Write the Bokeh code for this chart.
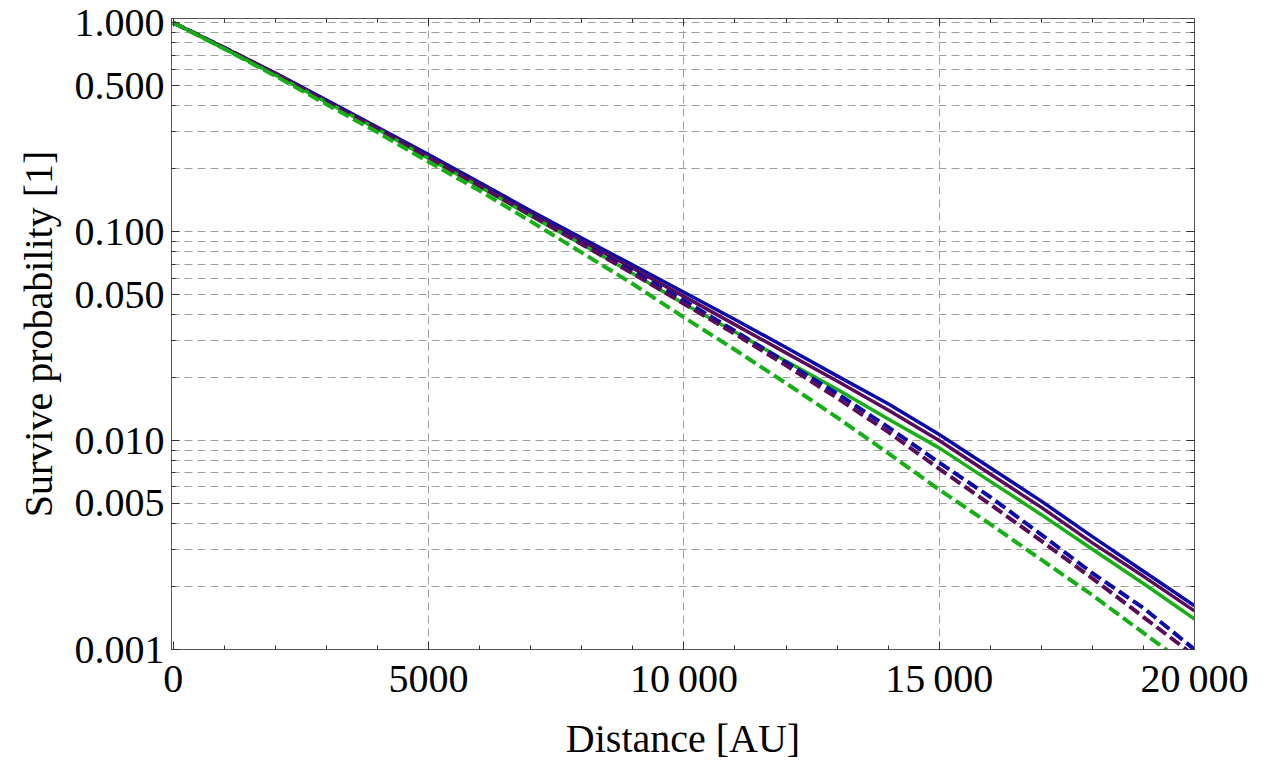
from bokeh.plotting import figure
from bokeh.models import Range1d, FixedTicker, LinearAxis, LogAxis
from bokeh.embed import file_html
from bokeh.resources import INLINE

# ---------------- data ----------------
distance = [0, 1000, 2000, 3000, 4000, 5000, 6000, 7000, 8000, 9000, 10000,
            11000, 12000, 13000, 14000, 15000, 16000, 17000, 18000, 19000, 20000]

blue_solid = [1.0, 0.759, 0.575, 0.427, 0.316, 0.234, 0.172, 0.126, 0.0933, 0.0692, 0.0513,
              0.0380, 0.0279, 0.0204, 0.0150, 0.0107, 0.00741, 0.00513, 0.00347, 0.00237, 0.00162]
purple_solid = [1.0, 0.759, 0.569, 0.422, 0.313, 0.229, 0.168, 0.123, 0.0902, 0.0668, 0.0490,
                0.0359, 0.0263, 0.0193, 0.0140, 0.0100, 0.00692, 0.00479, 0.00324, 0.00224, 0.00153]
green_solid = [1.0, 0.750, 0.562, 0.417, 0.309, 0.224, 0.164, 0.119, 0.0871, 0.0631, 0.0452,
               0.0331, 0.0240, 0.0176, 0.0127, 0.00923, 0.00638, 0.00442, 0.00302, 0.00207, 0.00140]
blue_dashed = [1.0, 0.759, 0.569, 0.422, 0.313, 0.229, 0.168, 0.122, 0.0881, 0.0646, 0.0468,
               0.0335, 0.0237, 0.0168, 0.0116, 0.00785, 0.00537, 0.00355, 0.00232, 0.00158, 0.00100]
purple_dashed = [1.0, 0.759, 0.569, 0.417, 0.309, 0.226, 0.166, 0.120, 0.0871, 0.0631, 0.0452,
                 0.0324, 0.0229, 0.0160, 0.0110, 0.00733, 0.00495, 0.00331, 0.00219, 0.00143, 0.000933]
green_dashed = [1.0, 0.750, 0.556, 0.407, 0.299, 0.216, 0.157, 0.112, 0.0794, 0.0562, 0.0389,
                0.0272, 0.0188, 0.0129, 0.00871, 0.00582, 0.00398, 0.00269, 0.00182, 0.00120, 0.000794]

x_ticks = [0, 5000, 10000, 15000, 20000]
x_tick_labels = ["0", "5000", "10\u2009000", "15\u2009000", "20\u2009000"]
x_minor = list(range(0, 20001, 1000))
x_grid = [5000, 10000, 15000]

y_ticks = [0.001, 0.005, 0.01, 0.05, 0.1, 0.5, 1.0]
y_tick_labels = ["0.001", "0.005", "0.010", "0.050", "0.100", "0.500", "1.000"]
y_minor = [m * d for d in (0.001, 0.01, 0.1) for m in range(1, 10)] + [1.0]

FONT = "Liberation Serif"
FS = "40px"

p = figure(width=1263, height=764, y_axis_type="log",
           x_range=Range1d(-35, 20000), y_range=Range1d(0.001, 1.048),
           output_backend="svg", toolbar_location=None,
           min_border_left=171, min_border_right=69,
           min_border_top=18, min_border_bottom=115)
p.background_fill_color = "white"
p.border_fill_color = "white"
p.outline_line_color = "#555555"
p.outline_line_width = 1

# grids
p.xgrid.ticker = FixedTicker(ticks=x_grid)
p.ygrid.ticker = FixedTicker(ticks=y_minor)
for g in (p.xgrid, p.ygrid):
    g.grid_line_color = "#a0a0a0"
    g.grid_line_dash = "8 5"
    g.grid_line_width = 1

def style_axis(ax, ticks, minor, labels, show_labels):
    ax.ticker = FixedTicker(ticks=ticks, minor_ticks=minor)
    ax.major_tick_in = 8
    ax.major_tick_out = 0
    ax.minor_tick_in = 4
    ax.minor_tick_out = 0
    ax.major_tick_line_color = "#333333"
    ax.minor_tick_line_color = "#333333"
    ax.axis_line_color = "#555555"
    ax.major_label_text_font = FONT
    ax.major_label_text_color = "black"
    ax.axis_label_text_font = FONT
    ax.axis_label_text_font_size = FS
    ax.axis_label_text_font_style = "normal"
    ax.axis_label_text_color = "black"
    if show_labels:
        ax.major_label_text_font_size = FS
        ax.major_label_overrides = {t: l for t, l in zip(ticks, labels)}
    else:
        ax.major_label_text_font_size = "1px"
        ax.major_label_overrides = {t: "" for t in ticks}
        ax.major_label_standoff = 0

xa = p.xaxis[0]
style_axis(xa, x_ticks, x_minor, x_tick_labels, True)
xa.axis_label = "Distance [AU]"
xa.major_label_standoff = 6
xa.axis_label_standoff = 12

ya = p.yaxis[0]
style_axis(ya, y_ticks, y_minor, y_tick_labels, True)
ya.axis_label = "Survive probability [1]"
ya.major_label_standoff = 7
ya.axis_label_standoff = 11

top = LinearAxis()
style_axis(top, x_ticks, x_minor, x_tick_labels, False)
p.add_layout(top, "above")

right = LogAxis()
style_axis(right, y_ticks, y_minor, y_tick_labels, False)
p.add_layout(right, "right")

series = [
    (blue_solid, "#0a0aa8", None, 3.5),
    (purple_solid, "#5a0a5a", None, 3.5),
    (green_solid, "#16b016", None, 3.5),
    (blue_dashed, "#0a0aa8", "12 5", 4),
    (purple_dashed, "#5a0a5a", "12 5", 4),
    (green_dashed, "#16b016", "12 5", 4),
]
for vals, col, dash, w in series:
    if dash:
        p.line(distance, vals, line_color=col, line_width=w, line_dash=dash)
    else:
        p.line(distance, vals, line_color=col, line_width=w)

open("out.html", "w").write(file_html(p, INLINE))
